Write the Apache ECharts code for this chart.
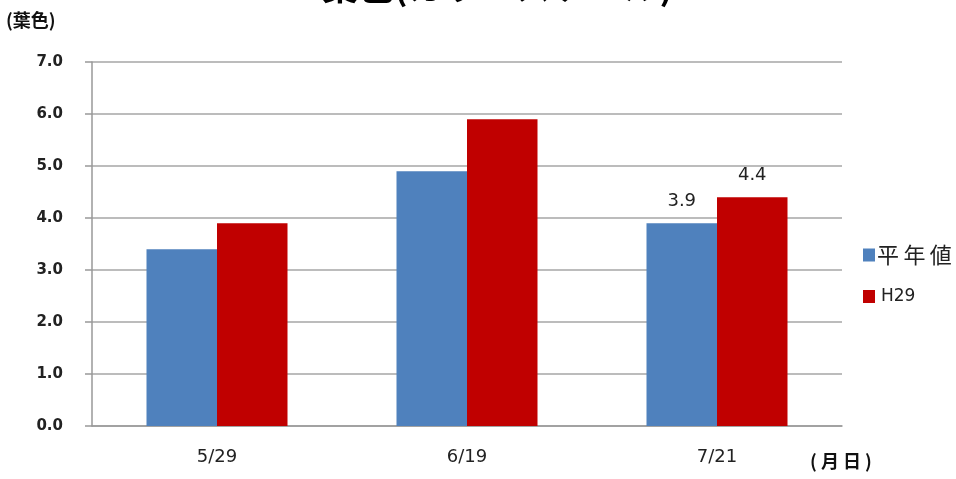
<!DOCTYPE html>
<html>
<head>
<meta charset="utf-8">
<script src="https://cdn.jsdelivr.net/npm/echarts@6/dist/echarts.min.js"></script>
<style>
html,body{margin:0;padding:0;background:#fff;}
#chart{width:956px;height:479px;}
</style>
</head>
<body>
<div id="chart"></div>
<script>
// Leaf colour readings per survey date
const dates = ['5/29', '6/19', '7/21'];
const normalYear = [3.4, 4.9, 3.9];   // 平年値
const h29 = [3.9, 5.9, 4.4];          // H29
const yTicks = [0, 7, 1];             // min, max, step

const FONT = '"DejaVu Sans",sans-serif';
const JP = '"Noto Sans CJK JP",sans-serif';

// only the last survey date carries a value label
const lastOnly = p => p.dataIndex === dates.length - 1 ? p.value.toFixed(1) : '';

const chart = echarts.init(document.getElementById('chart'));
chart.setOption({
  animation: false,
  title: {
    text: '葉色(カラースケール)',
    left: 317,
    top: -37,
    textStyle: { fontFamily: JP, fontSize: 36, fontWeight: 'bold', color: '#000' }
  },
  grid: { left: 92, right: 114, top: 62, bottom: 53 },
  legend: {
    orient: 'vertical',
    left: 858,
    top: 239,
    itemGap: 22,
    itemWidth: 12,
    itemHeight: 13,
    icon: 'rect',
    formatter: name => name === '平年値' ? name.split('').join('\u2009') : name,
    data: [
      { name: '平年値', textStyle: { fontFamily: JP, fontSize: 22, color: '#222', padding: [0, 0, 10, -3] } },
      { name: 'H29', textStyle: { fontFamily: FONT, fontSize: 17, color: '#222', padding: [0, 0, 0, 1] } }
    ]
  },
  xAxis: {
    type: 'category',
    data: dates,
    axisLine: { lineStyle: { color: '#999', width: 1.5 } },
    axisTick: { show: false },
    axisLabel: { fontFamily: FONT, fontSize: 18, color: '#222', margin: 22 }
  },
  yAxis: {
    type: 'value',
    min: yTicks[0],
    max: yTicks[1],
    interval: yTicks[2],
    axisLine: { show: true, lineStyle: { color: '#999', width: 1.5 } },
    axisTick: { show: true, length: 7, lineStyle: { color: '#999', width: 1.5 } },
    splitLine: { lineStyle: { color: '#a6a6a6', width: 1.5 } },
    axisLabel: {
      fontFamily: FONT, fontSize: 15, fontWeight: 'bold', color: '#222', margin: 29,
      formatter: v => v.toFixed(1)
    }
  },
  graphic: [
    { type: 'text', left: 6, top: 11,
      style: { text: '(葉色)', font: 'bold 18px ' + JP, fill: '#111' } },
    { type: 'text', left: 810, top: 452,
      style: { text: '( 月 日 )', font: 'bold 18px ' + JP, fill: '#111' } }
  ],
  series: [
    {
      name: '平年値', type: 'bar', data: normalYear, barWidth: '28.2%', barGap: '0%',
      itemStyle: { color: '#4f81bd' },
      label: { show: true, position: 'top', distance: 13, formatter: lastOnly,
               fontFamily: FONT, fontSize: 18, color: '#222' }
    },
    {
      name: 'H29', type: 'bar', data: h29, barWidth: '28.2%', barGap: '0%',
      itemStyle: { color: '#c00000' },
      label: { show: true, position: 'top', distance: 13, formatter: lastOnly,
               fontFamily: FONT, fontSize: 18, color: '#222' }
    }
  ]
});
</script>
</body>
</html>
